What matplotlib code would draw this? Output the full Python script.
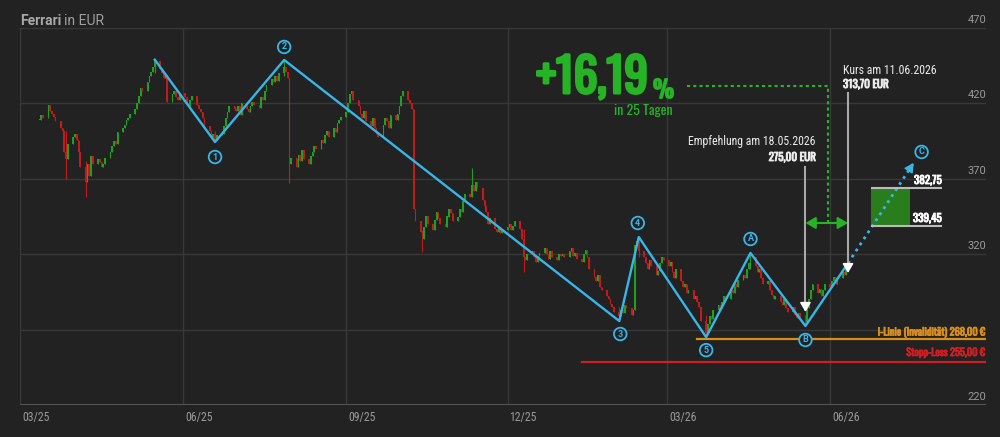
import matplotlib
matplotlib.use('Agg')
import matplotlib.pyplot as plt
import matplotlib.dates as mdates
import matplotlib.patheffects as pe
from matplotlib.patches import Rectangle
import pandas as pd
import numpy as np

W, H = 1000, 437
BG = '#222222'
GRID = '#383838'
TXT = '#9a9a9a'
GREEN = '#26b426'
BOXGREEN = '#2a7d1c'
CGREEN = '#20a020'
CRED = '#c21b1b'
BLUE = '#38b6ea'
ORANGE = '#d98e1c'
RED = '#cf1f23'
NARROW = ['Oswald', 'DejaVu Sans']
LIGHT = ['Roboto Condensed', 'DejaVu Sans']
SANS = ['Roboto', 'DejaVu Sans']

# ---------------- data ----------------
month_starts = ['2025-03-12', '2025-04-01', '2025-05-01', '2025-06-02', '2025-07-01',
                '2025-08-01', '2025-09-01', '2025-10-01', '2025-11-03', '2025-12-01',
                '2026-01-01', '2026-02-02', '2026-03-02', '2026-04-01', '2026-05-01',
                '2026-06-01']
close_2025_03 = [409, 412, 410, 419, 415, 413, 411, 408, 404, 402, 388, 383, 393, 398]
close_2025_04 = [400, 396, 388, 378, 368, 380, 372, 385, 380, 383, 381, 378, 380, 384, 388,
                 392, 395, 393, 401, 404, 406, 409]
close_2025_05 = [410, 413, 416, 420, 425, 430, 428, 434, 438, 441, 444, 448, 443, 440, 437,
                 439, 421, 426, 428, 424, 422, 427]
close_2025_06 = [424, 420, 418, 422, 425, 419, 416, 414, 410, 405, 402, 398, 400, 396, 399,
                 400, 405, 410, 414, 418, 416]
close_2025_07 = [415, 418, 412, 420, 416, 414, 418, 421, 419, 417, 424, 422, 428, 432, 436,
                 434, 438, 435, 440, 444, 441, 437, 380]
close_2025_08 = [384, 378, 386, 382, 389, 383, 380, 385, 388, 392, 390, 396, 394, 399, 402,
                 398, 404, 401, 407, 409, 411]
close_2025_09 = [414, 420, 426, 428, 422, 418, 413, 410, 415, 408, 405, 410, 404, 400, 398,
                 406, 410, 408, 404, 412, 409, 413]
close_2025_10 = [418, 425, 428, 422, 420, 416, 350, 342, 335, 330, 338, 345, 340, 336, 343,
                 348, 344, 340, 338, 345, 350, 347, 342]
close_2025_11 = [345, 350, 348, 355, 360, 358, 366, 362, 368, 364, 356, 352, 348, 340, 344,
                 337, 335, 338, 334, 336]
close_2025_12 = [338, 340, 336, 339, 342, 337, 330, 318, 316, 320, 322, 318, 315, 319, 321,
                 324, 320, 317, 322, 318, 316, 320, 319]
close_2026_01 = [320, 318, 322, 324, 319, 321, 317, 315, 320, 323, 318, 310, 305, 302, 306,
                 298, 296, 292, 290, 287, 285, 282]
close_2026_02 = [279, 283, 281, 286, 284, 280, 283, 326, 329, 322, 318, 314, 310, 316, 312,
                 306, 309, 314, 318, 316]
close_2026_03 = [312, 315, 308, 304, 310, 302, 298, 300, 294, 296, 290, 292, 288, 285, 276,
                 268, 274, 279, 277, 283, 286, 284]
close_2026_04 = [288, 292, 290, 296, 294, 300, 298, 303, 306, 304, 310, 314, 318, 312, 308,
                 310, 304, 300, 302, 296, 293, 290]
close_2026_05 = [292, 288, 286, 290, 284, 282, 285, 280, 278, 281, 277, 275, 284, 290, 296,
                 300, 294, 297, 292, 296, 300]
close_2026_06 = [298, 302, 305, 300, 304, 308, 306, 311, 313.7]
closes_by_month = [close_2025_03, close_2025_04, close_2025_05, close_2025_06, close_2025_07,
                   close_2025_08, close_2025_09, close_2025_10, close_2025_11, close_2025_12,
                   close_2026_01, close_2026_02, close_2026_03, close_2026_04, close_2026_05,
                   close_2026_06]

wick_dates = ['2025-03-27', '2025-04-07', '2025-05-16', '2025-06-19', '2025-07-28',
              '2025-07-31', '2025-10-14', '2025-11-11', '2025-12-10', '2026-02-02',
              '2026-02-13', '2026-03-23', '2026-04-17', '2026-05-18']
wick_lows = [370, 358, 440, 394.4, 438, 367, 321.5, 360, 308, 275.7, 318, 265, 310, 272.4]
wick_highs = [402, 382, 449, 402, 449, 437, 336, 377, 337, 285, 331.4, 280, 320.8, 280]

wave_dates = ['2025-05-16', '2025-06-19', '2025-07-28', '2026-02-02', '2026-02-13',
              '2026-03-23', '2026-04-17', '2026-05-18', '2026-06-11']
wave_prices = [449, 394.4, 448.8, 275.7, 331.4, 265, 320.8, 272.4, 314]
wave_labels = ['', '1', '2', '3', '4', '5', 'A', 'B', '']
wave_label_offsets = [(0, 0), (0, -15), (0, 13), (1, -13), (-1, 14), (0, -13), (0, 14), (0, -14), (0, 0)]
target_date, target_price, target_label = '2026-07-18', 380.5, 'C'

y_ticks = [220, 270, 320, 370, 420, 470]
y_tick_labels = ['220', '', '320', '370', '420', '470']
x_ticks = ['2025-03-01', '2025-06-01', '2025-09-01', '2025-12-01', '2026-03-01', '2026-06-01']
x_tick_labels = ['03/25', '06/25', '09/25', '12/25', '03/26', '06/26']

rec_date, rec_price_text = '2026-05-18', '275,00 EUR'
now_date, now_price_text = '2026-06-11', '313,70 EUR'
perf_text, perf_days_text = '+16,19', 'in 25 Tagen'
target_zone = (338.7, 363.9)
target_zone_labels = ['339,45', '382,75']
i_line_level, stop_level = 263.8, 248.7

# ---------------- build series ----------------
dates = []
closes = []
for start, vals in zip(month_starts, closes_by_month):
    dates.extend(pd.bdate_range(start, periods=len(vals)))
    closes.extend(vals)
dates = pd.DatetimeIndex(dates)
closes = np.array(closes, float)
opens = np.r_[closes[0], closes[:-1]]
highs = np.maximum(opens, closes)
lows = np.minimum(opens, closes)
for d, lo, hi in zip(wick_dates, wick_lows, wick_highs):
    i = int(dates.searchsorted(pd.Timestamp(d)))
    lows[i] = min(lows[i], lo)
    highs[i] = max(highs[i], hi)

num = lambda d: mdates.date2num(pd.Timestamp(d))

def bold(color, w=0.8):
    return [pe.withStroke(linewidth=w, foreground=color)]

# ---------------- figure ----------------
fig = plt.figure(figsize=(W / 100, H / 100), dpi=100, facecolor=BG)
ax = fig.add_axes([20 / W, 1 - 405 / H, (986 - 20) / W, (405 - 28) / H])
ax.set_facecolor(BG)
x0 = num('2025-03-01')
ax.set_xlim(x0, x0 + 966 / 1.773)
ax.set_ylim(220, 470)
for s in ax.spines.values():
    s.set_visible(False)
ax.tick_params(left=False, bottom=False, labelleft=False, labelbottom=False)

for v, lab in zip(y_ticks, y_tick_labels):
    ax.axhline(v, color=GRID, lw=1, zorder=0)
    if lab:
        ax.annotate(lab, xy=(1, v), xycoords=('axes fraction', 'data'), xytext=(0, 3),
                    textcoords='offset pixels', ha='right', va='bottom', color=TXT,
                    fontsize=8, family=SANS)
for d, lab in zip(x_ticks, x_tick_labels):
    ax.axvline(num(d), color=GRID, lw=1, zorder=0)
    ax.annotate(lab, xy=(num(d), 0), xycoords=('data', 'axes fraction'), xytext=(2, -6),
                textcoords='offset pixels', ha='left', va='top', color=TXT,
                fontsize=8.5, family=LIGHT)
ax.axhline(220, color='#555555', lw=2.2, zorder=1)

# candles
dn = mdates.date2num(dates)
col = np.where(closes >= opens, CGREEN, CRED)
ax.vlines(dn, lows, highs, colors=col, lw=0.8, zorder=2)
body = np.maximum(np.abs(closes - opens), 0.5)
ax.bar(dn, body, bottom=np.minimum(opens, closes), width=0.95, color=col, linewidth=0, zorder=2)

# horizontal levels
ax.plot([num('2026-03-18'), ax.get_xlim()[1]], [i_line_level] * 2, color=ORANGE, lw=1.6, zorder=3)
ax.plot([num('2026-01-12'), ax.get_xlim()[1]], [stop_level] * 2, color=RED, lw=1.6, zorder=3)

# wave
wd = [num(d) for d in wave_dates]
ax.plot(wd, wave_prices, color=BLUE, lw=1.7, zorder=4)
ax.plot([wd[-1], num(target_date)], [wave_prices[-1], target_price], color=BLUE, lw=2.0,
        linestyle=(0, (1, 1.6)), zorder=4)
ax.annotate('', xy=(num(target_date), target_price), xytext=(-4.4, -6.7), textcoords='offset pixels',
            arrowprops=dict(arrowstyle='-|>,head_length=0.55,head_width=0.3', color=BLUE, lw=1,
                            shrinkA=0, shrinkB=0), zorder=5)

def wave_label(txt, d, p, dx, dy):
    ax.annotate(txt, xy=(d, p), xytext=(dx, dy), textcoords='offset pixels', ha='center',
                va='center', color=BLUE, fontsize=6.5, fontweight='bold', family=SANS,
                bbox=dict(boxstyle='circle,pad=0.2', fc=BG, ec=BLUE, lw=1.3), zorder=6)

for lab, d, p, off in zip(wave_labels, wd, wave_prices, wave_label_offsets):
    if lab:
        wave_label(lab, d, p, *off)
wave_label(target_label, num(target_date), target_price, 8, 11)

# recommendation / current lines
LINEGRAY = '#a8a8a8'
ax.plot([num(rec_date)] * 2, [377.8, 287], color=LINEGRAY, lw=1.5, zorder=5)
ax.annotate('', xy=(num(rec_date), 281.7), xytext=(0, 9), textcoords='offset pixels',
            arrowprops=dict(arrowstyle='-|>,head_length=0.55,head_width=0.32', color='white',
                            lw=1.2, shrinkA=0, shrinkB=0), zorder=6)
ax.plot([num(now_date)] * 2, [426.9, 313], color=LINEGRAY, lw=1.5, zorder=5)
ax.annotate('', xy=(num(now_date), 307.5), xytext=(0, 9), textcoords='offset pixels',
            arrowprops=dict(arrowstyle='-|>,head_length=0.55,head_width=0.32', color='white',
                            lw=1.2, shrinkA=0, shrinkB=0), zorder=6)

# green measure
ax.annotate('', xy=(num(rec_date), 340.7), xytext=(num(now_date), 340.7),
            arrowprops=dict(arrowstyle='<|-|>,head_length=0.6,head_width=0.35', color=GREEN,
                            lw=1.5, shrinkA=0, shrinkB=0), zorder=6)
ax.plot([num('2026-03-12'), num('2026-05-31'), num('2026-05-31')], [431.5, 431.5, 341.5],
        color=GREEN, lw=1.5, linestyle=(0, (1.5, 1.5)), zorder=5)

# target zone
ax.add_patch(Rectangle((num('2026-06-24'), target_zone[0]), num('2026-07-16') - num('2026-06-24'),
                       target_zone[1] - target_zone[0], facecolor=BOXGREEN, edgecolor='none', zorder=3))
ax.hlines(target_zone, num('2026-06-24'), num('2026-08-03'), color='#bbbbbb', lw=1.5, zorder=4)
for v, lab in zip(target_zone, target_zone_labels):
    ax.annotate(lab, xy=(num('2026-08-03'), v), xytext=(0, 2), textcoords='offset pixels',
                ha='right', va='bottom', color='white', fontsize=8, family=NARROW, zorder=6,
                path_effects=bold('white', 0.6))

# ---------------- texts (pixel positions) ----------------
def ftext(x, y, s, **kw):
    return fig.text(x / W, 1 - y / H, s, **kw)

t1 = ftext(20, 25, 'Ferrari', color='#a8a8a8', fontsize=10, fontweight='bold', family=SANS,
           va='baseline', ha='left')
ax.annotate('in EUR', xy=(1, 0), xycoords=t1, xytext=(3, 0), textcoords='offset pixels',
            color='#a0a0a0', fontsize=10, family=SANS, va='bottom', ha='left',
            annotation_clip=False)

tp = ftext(648, 93, perf_text, color=GREEN, fontsize=34, family=NARROW,
           ha='right', va='baseline', path_effects=bold(GREEN, 2.2))
ax.annotate('%', xy=(1, 0), xycoords=tp, xytext=(5, 0), textcoords='offset pixels', color=GREEN,
            fontsize=17, family=NARROW, ha='left', va='bottom', annotation_clip=False,
            path_effects=bold(GREEN, 1.2))
ftext(643, 110, perf_days_text, color=GREEN, fontsize=10, family=NARROW, ha='center', va='center')

ftext(843, 70, 'Kurs am 11.06.2026', color='#eeeeee', fontsize=8.5, family=LIGHT, ha='left', va='center')
ftext(843, 84, now_price_text, color='#eeeeee', fontsize=8, family=NARROW,
      ha='left', va='center', path_effects=bold('#eeeeee', 0.6))
ftext(816, 142, 'Empfehlung am 18.05.2026', color='#eeeeee', fontsize=8.5, family=LIGHT,
      ha='right', va='center')
ftext(816, 157, rec_price_text, color='#eeeeee', fontsize=8, family=NARROW,
      ha='right', va='center', path_effects=bold('#eeeeee', 0.6))

ftext(985, 333, 'i-Linie (Invalidität) 268,00 €', color=ORANGE, fontsize=7.5,
      family=NARROW, ha='right', va='center', path_effects=bold(ORANGE, 0.6))
ftext(985, 353, 'Stopp-Loss 255,00 €', color=RED, fontsize=7.5,
      family=NARROW, ha='right', va='center', path_effects=bold(RED, 0.6))

fig.savefig('out.png', dpi=100, facecolor=BG)
